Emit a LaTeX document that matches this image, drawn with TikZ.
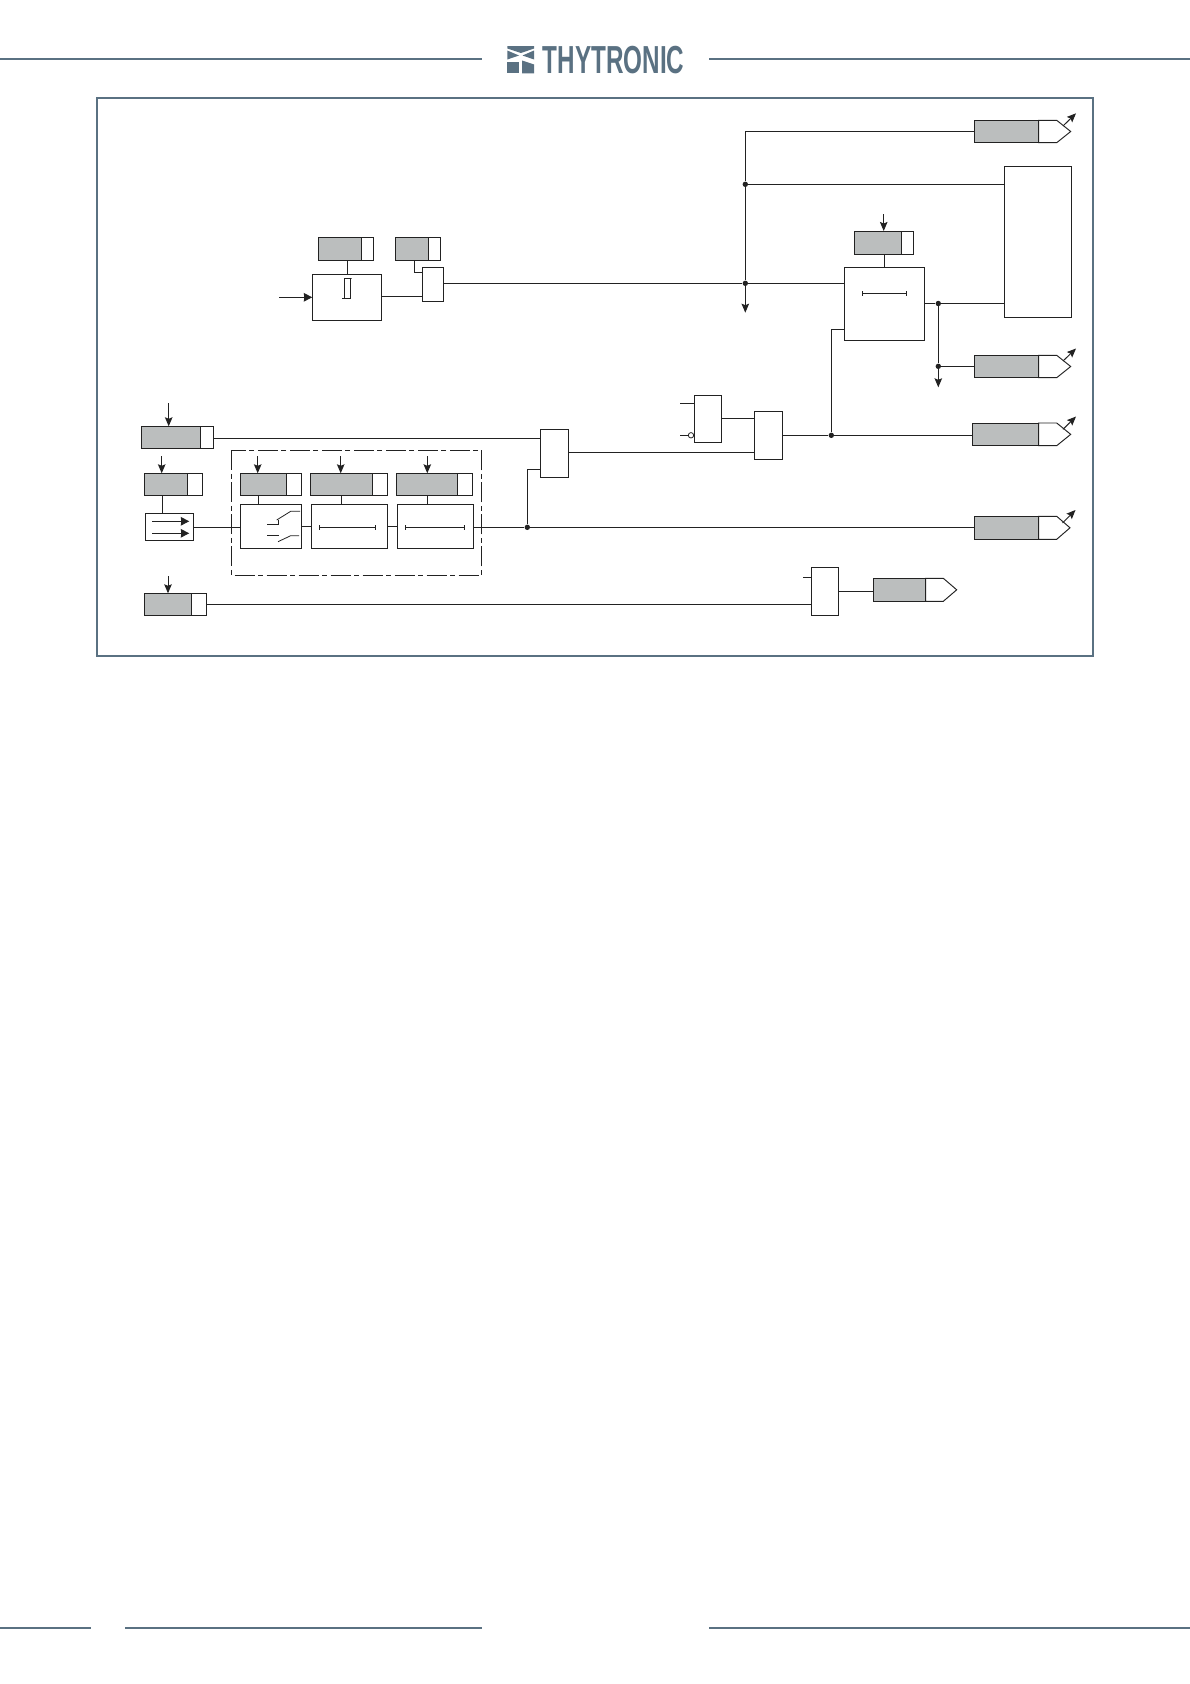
\documentclass[tikz,border=0pt]{standalone}
\usepackage{fontspec}
\setmainfont{Liberation Sans}
\usetikzlibrary{arrows.meta}
\definecolor{brand}{HTML}{5A7182}
\definecolor{setgrey}{HTML}{BBBEBE}
\definecolor{ink}{HTML}{222222}
\tikzset{
  wire/.style={draw=ink,line width=0.95pt},
  sig/.style={wire,-{Stealth[length=9pt,width=7.5pt,inset=1.5pt]}},
  bigsig/.style={wire,-{Stealth[length=8.5pt,width=8.5pt,inset=0.5pt]}},
  blockbox/.style={draw=ink,line width=0.95pt,fill=white,inner sep=0pt,outer sep=0pt},
  greybox/.style={blockbox,fill=setgrey},
  junction/.style={circle,fill=ink,inner sep=0pt,minimum size=5.4pt},
  brandline/.style={draw=brand,line width=2pt},
  barline/.style={draw=ink,line width=0.8pt,{Bar[width=5pt,length=0.8pt]}-{Bar[width=5pt,length=0.8pt]}}
}
% name, style, x1, y1, x2, y2
\newcommand\rectnode[6]{%
  \pgfmathsetmacro\wdv{#5-(#3)}\pgfmathsetmacro\htv{#6-(#4)}%
  \pgfmathsetmacro\cxv{(#3+#5)/2}\pgfmathsetmacro\cyv{(#4+#6)/2}%
  \node[#2,minimum width=\wdv pt,minimum height=\htv pt] (#1) at (\cxv,\cyv) {};}
% setting block: name, x1, xm, x2, y1, y2
\newcommand\setblock[6]{%
  \rectnode{#1w}{blockbox}{#3}{#5}{#4}{#6}%
  \rectnode{#1}{greybox}{#2}{#5}{#3}{#6}}
% output block: name, x1, xm, xshoulder, xtip, y1, y2
\newcommand\outblock[7]{%
  \pgfmathsetmacro\cyw{(#6+#7)/2}%
  \coordinate (#1tip) at (#5,\cyw);%
  \draw[blockbox,line join=miter] (#3,#6) -- (#4,#6) -- (#1tip) -- (#4,#7) -- (#3,#7) -- cycle;%
  \rectnode{#1}{greybox}{#2}{#6}{#3}{#7}}
\begin{document}
\begin{tikzpicture}[x=1pt,y=-1pt]
\useasboundingbox (0,0) rectangle (1190,1684);
\fill[white] (0,0) rectangle (1190,1684);
% header and footer
\coordinate (hl0) at (0,59); \coordinate (hl1) at (482,59);
\coordinate (hr0) at (709,59); \coordinate (hr1) at (1190,59);
\draw[brandline] (hl0) -- (hl1);
\draw[brandline] (hr0) -- (hr1);
\coordinate (fa0) at (0,1628); \coordinate (fa1) at (91,1628);
\coordinate (fb0) at (125,1628); \coordinate (fb1) at (482,1628);
\coordinate (fc0) at (709,1628); \coordinate (fc1) at (1190,1628);
\draw[brandline] (fa0) -- (fa1);
\draw[brandline] (fb0) -- (fb1);
\draw[brandline] (fc0) -- (fc1);
% logo
\fill[brand] (507.3,46) -- (534,46) -- (534,48.5) -- (521,53) -- (507.3,48.5) -- cycle;
\fill[brand] (507.3,50.5) -- (519,55.5) -- (507.3,59.5) -- cycle;
\fill[brand] (534,50.5) -- (522.5,55.5) -- (534,59.5) -- cycle;
\fill[brand] (507.3,62) -- (518.5,62) -- (518.5,73.3) -- (507.3,73.3) -- cycle;
\fill[brand] (522,60.5) -- (534,64.5) -- (534,73.3) -- (522,73.3) -- cycle;
\node[anchor=north west,inner sep=0pt,text=brand] (logo) at (542.7,46)
  {\resizebox{141.5pt}{27.3pt}{\bfseries THYTRONIC}};
% frame
\draw[brandline] (97,97.7) rectangle (1093,656);
% --- upper left
\setblock{sa}{318.3}{361.7}{373.3}{237.3}{260.7}
\setblock{sb}{395.3}{428.7}{440.7}{237.3}{260.7}
\rectnode{thr}{blockbox}{312.3}{274.3}{381.3}{320}
\rectnode{gateA}{blockbox}{422.3}{267.3}{443.7}{301.3}
\coordinate (thrin) at (279,297.3);
\draw[bigsig] (thrin) -- (thr.west |- thrin);
\draw[wire] (sa.south -| 347.3,0) -- (thr.north -| 347.3,0);
\draw[wire] (thr.east |- 0,296.3) -- (gateA.west |- 0,296.3);
\draw[wire] (sb.south -| 414.3,0) |- (gateA.west |- 0,272.3);
\draw[wire,line width=0.8pt] (342.3,298.7) -- (350,298.7) -- (350,278.3) -- (351.7,278.3) -- (344.7,278.3) -- (344.7,298.7);
% --- timer right
\setblock{sc}{854.7}{901.3}{913}{231}{254}
\rectnode{tim}{blockbox}{844.3}{267.3}{924.7}{340.3}
\coordinate (scin) at (883.7,214);
\draw[sig] (scin) -- (scin |- sc.north);
\draw[wire] (sc.south -| 884.3,0) -- (tim.north -| 884.3,0);
\coordinate (tbl) at (862.3,293.3); \coordinate (tbr) at (906.7,293.3);
\draw[barline] (tbl) -- (tbr);
\rectnode{big}{blockbox}{1004.3}{166.3}{1071.7}{317.3}
% --- outputs
\outblock{oa}{974.3}{1038.7}{1056.7}{1070.7}{120.3}{142.7}
\outblock{ob}{974.3}{1038.7}{1056.7}{1070.7}{355.3}{377.7}
\outblock{oc}{972.3}{1038.7}{1056.7}{1070.7}{423}{445.7}
\outblock{od}{974}{1038.7}{1056.7}{1070}{516.3}{539.3}
\outblock{oe}{873.3}{925.7}{943.3}{956.7}{578.3}{601.3}
\foreach \o/\ax/\ay/\bx/\by in {a/1063/126/1076/113.3, b/1063/361/1076/348.5, c/1063/429.3/1076/416.5, d/1062.5/523/1075.5/510}{
  \coordinate (\o s) at (\ax,\ay); \coordinate (\o e) at (\bx,\by);
  \draw[sig] (\o s) -- (\o e);
}
% main bus
\node[junction] (j1) at (745.3,184.3) {};
\node[junction] (j2) at (745.3,283.3) {};
\coordinate (bustop) at (745.3,131.5);
\coordinate (busend) at (745.3,312.7);
\draw[wire] (oa.west |- bustop) -- (bustop) -- (j1) -- (j2);
\draw[sig] (j2) -- (busend);
\draw[wire] (j1) -- (big.west |- j1);
\draw[wire] (gateA.east |- j2) -- (j2) -- (tim.west |- j2);
\node[junction] (j3) at (938.3,303.5) {};
\node[junction] (j4) at (938.3,366.3) {};
\coordinate (j4end) at (938.3,387.3);
\draw[wire] (tim.east |- j3) -- (j3) -- (big.west |- j3);
\draw[wire] (j3) -- (j4);
\draw[sig] (j4) -- (j4end);
\draw[wire] (j4) -- (ob.west |- j4);
% --- logic gates
\rectnode{andA}{blockbox}{694.3}{395.3}{721.7}{442.3}
\rectnode{orB}{blockbox}{754.3}{411.3}{782.7}{459.3}
\rectnode{orA}{blockbox}{540.3}{429.3}{568.7}{477.3}
\rectnode{andB}{blockbox}{811.3}{567.3}{838.7}{615.3}
\coordinate (ai) at (680,403.3);
\coordinate (aj) at (680,435.3);
\node[circle,draw=ink,line width=0.8pt,fill=white,inner sep=0pt,minimum size=5.4pt] (neg) at (691,435.3) {};
\draw[wire] (ai) -- (andA.west |- ai);
\draw[wire] (aj) -- (neg.west);
\draw[wire] (andA.east |- 0,418.3) -- (orB.west |- 0,418.3);
\draw[wire] (orA.east |- 0,452.3) -- (orB.west |- 0,452.3);
\node[junction] (j5) at (831.3,435.3) {};
\draw[wire] (orB.east |- j5) -- (j5) -- (oc.west |- j5);
\draw[wire] (j5) |- (tim.west |- 0,329.3);
% --- lower left settings
\setblock{se}{141.3}{200.7}{213.7}{426.3}{448.3}
\setblock{sf}{144.7}{187.7}{202.3}{473.3}{495.7}
\setblock{sg}{240.3}{286}{301.7}{473.3}{495.7}
\setblock{sh}{310.7}{372.3}{387.7}{473.3}{495.7}
\setblock{si}{396}{457.7}{472.7}{473.3}{495.7}
\setblock{sj}{144.3}{191.7}{206.7}{593.3}{615.3}
\foreach \n/\ax/\ay in {se/168.7/403.3, sf/161.7/456, sg/257.7/456, sh/340.7/456, si/427.3/456, sj/168/576}{
  \coordinate (\n in) at (\ax,\ay);
  \draw[sig] (\n in) -- (\n in |- \n.north);
}
% selector
\rectnode{sel}{blockbox}{145.3}{513.3}{193.7}{540.3}
\draw[wire] (sf.south -| 162.3,0) -- (sel.north -| 162.3,0);
\coordinate (sa1) at (152,521.3); \coordinate (sa2) at (189.3,521.3);
\coordinate (sb1) at (152,533.3); \coordinate (sb2) at (189.3,533.3);
\draw[bigsig] (sa1) -- (sa2);
\draw[bigsig] (sb1) -- (sb2);
% group
\draw[draw=ink,line width=0.85pt,dash pattern=on 20pt off 3.5pt on 5pt off 3.5pt] (231.7,450.3) rectangle (481.7,575.3);
\rectnode{swb}{blockbox}{240.3}{504.3}{301.7}{548.3}
\rectnode{tb}{blockbox}{311.3}{504.3}{387.7}{548.3}
\rectnode{tc}{blockbox}{397.3}{504.3}{473.7}{548.3}
\draw[wire] (sel.east |- 0,527.3) -- (swb.west |- 0,527.3);
\draw[wire] (sg.south -| 258.7,0) -- (swb.north -| 258.7,0);
\draw[wire] (sh.south -| 341.3,0) -- (tb.north -| 341.3,0);
\draw[wire] (si.south -| 427.3,0) -- (tc.north -| 427.3,0);
\draw[wire] (swb.east |- 0,526) -- (tb.west |- 0,526);
\draw[wire] (tb.east |- 0,526) -- (tc.west |- 0,526);
\draw[wire,line width=0.8pt] (267,524.3) -- (278,524.3) -- (278,519.5);
\draw[wire,line width=0.8pt] (276.7,520) -- (290.7,511.3) -- (300,511.3);
\draw[wire,line width=0.8pt] (267,535.3) -- (279.3,535.3);
\draw[wire,line width=0.8pt] (278,541.7) -- (290.7,535.7) -- (299,535.7);
\coordinate (bbl) at (319.3,527.3); \coordinate (bbr) at (375.7,527.3);
\coordinate (cbl) at (405.3,527.3); \coordinate (cbr) at (464.3,527.3);
\draw[barline] (bbl) -- (bbr);
\draw[barline] (cbl) -- (cbr);
% long lines
\draw[wire] (sew.east |- 0,438.3) -- (orA.west |- 0,438.3);
\node[junction] (j6) at (527.3,527.3) {};
\draw[wire] (tc.east |- j6) -- (j6) -- (od.west |- j6);
\draw[wire] (j6) |- (orA.west |- 0,469.3);
\draw[wire] (sjw.east |- 0,604.3) -- (andB.west |- 0,604.3);
\coordinate (bi) at (803.3,577.3);
\draw[wire] (bi) -- (andB.west |- bi);
\draw[wire] (andB.east |- 0,591.3) -- (oe.west |- 0,591.3);
\end{tikzpicture}
\end{document}
